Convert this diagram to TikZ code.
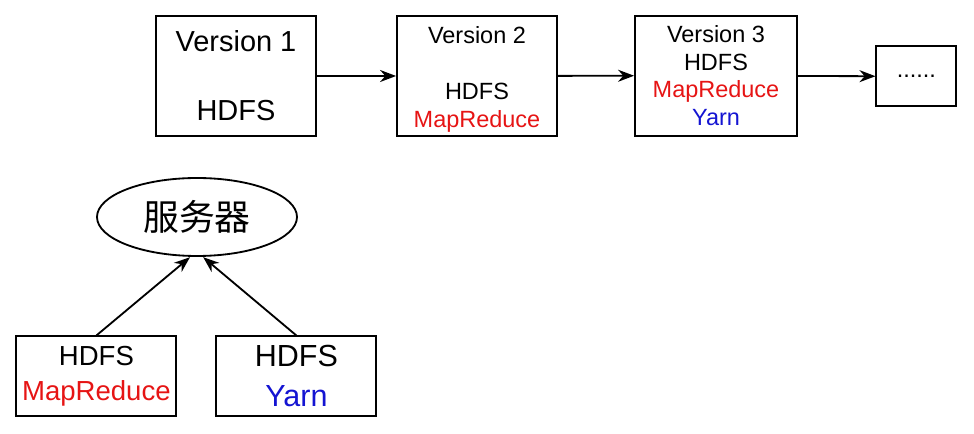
\documentclass[tikz,border=0pt]{standalone}
\usepackage{fontspec}
\setmainfont{Liberation Sans}
\newfontfamily\cjk{Noto Sans CJK SC}
\usepackage{tikz}
\usetikzlibrary{arrows.meta, shapes.geometric}

\definecolor{mrred}{RGB}{230, 20, 20}
\definecolor{yarnblue}{RGB}{20, 20, 210}

\tikzset{
	box/.style = {draw, line width = 1.3pt, align = center, inner sep = 0pt},
	link/.style = {-{Stealth[length = 0.4cm, width = 0.3cm]}, line width = 1.3pt}
}

\begin{document}
\begin{tikzpicture}
		
		\useasboundingbox (0, 0) rectangle (24.35, 10.85);
		
		\node[box, minimum width = 4cm, minimum height = 3cm, font = \fontsize{20.6}{24.5}\selectfont] (v1) at (5.9, 8.95) {Version 1\\ \\HDFS};
		\node[box, minimum width = 4cm, minimum height = 3cm, font = \fontsize{16.7}{19.9}\selectfont] (v2) at (11.925, 8.95) {\rule{0pt}{17pt}Version 2\\ \\HDFS\\\textcolor{mrred}{MapReduce}};
		\node[box, minimum width = 4.05cm, minimum height = 3cm, font = \fontsize{16.7}{19.9}\selectfont] (v3) at (17.9, 8.96) {Version 3\\HDFS\\\textcolor{mrred}{MapReduce}\\\textcolor{yarnblue}{Yarn}};
		\node[box, minimum width = 2cm, minimum height = 1.5cm, font = \fontsize{16.7}{19.9}\selectfont] (more) at (22.91, 8.94) {......};
		
		\draw[link] (v1) -- (v2);
		\draw[link] (v2) -- (v3);
		\draw[link] (v3) -- (more);
		
		\node[draw, ellipse, line width = 1.3pt, minimum width = 5cm, minimum height = 1.95cm, inner sep = 0pt, font = \cjk\fontsize{25.5}{30}\selectfont] (server) at (4.925, 5.425) {服务器};
		
		\node[box, minimum width = 4cm, minimum height = 2cm, font = \fontsize{19.6}{24.9}\selectfont] (hdfsmr) at (2.41, 1.44) {HDFS\\\textcolor{mrred}{MapReduce}};
		\node[box, minimum width = 4cm, minimum height = 2cm, font = \fontsize{21.7}{28.5}\selectfont] (hdfsyarn) at (7.41, 1.44) {HDFS\\\textcolor{yarnblue}{Yarn}};
		
		\coordinate (inmr) at (4.75, 4.42);
		\coordinate (inyarn) at (5.08, 4.42);
		
		\draw[link] (hdfsmr.north) -- (inmr);
		\draw[link] (hdfsyarn.north) -- (inyarn);
		
	\end{tikzpicture}
\end{document}
